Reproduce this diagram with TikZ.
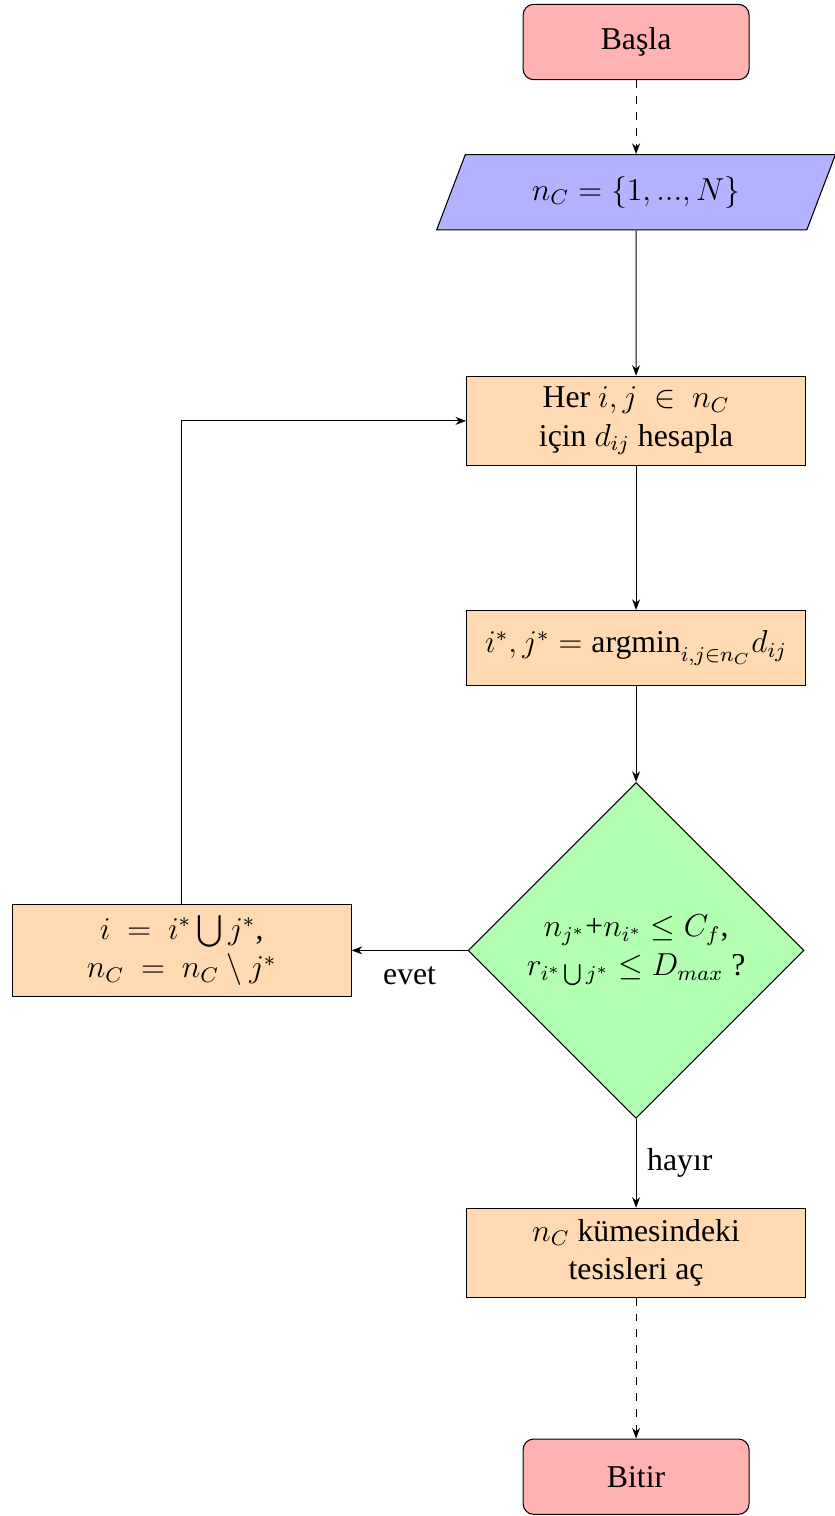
\documentclass[tikz,border=0pt,12pt]{standalone}
\usepackage{amsmath,amssymb}
\usepackage{fontspec}
\setmainfont{Liberation Serif}
\usepackage{tikz}
\usetikzlibrary{arrows.meta,positioning,shapes.geometric,calc}

\begin{document}
\begin{tikzpicture}[
  startstop/.style={rectangle, rounded corners, draw=black, fill=red!30,
    minimum width=3cm, minimum height=1cm, align=center},
  io/.style={trapezium, trapezium left angle=70, trapezium right angle=110,
    trapezium stretches=true, draw=black, fill=blue!30,
    minimum width=5.3cm, minimum height=1cm, align=center},
  process/.style={rectangle, draw=black, fill=orange!30,
    minimum width=4.5cm, minimum height=1cm, align=center},
  decision/.style={diamond, aspect=1, draw=black, fill=green!30,
    minimum width=4.46cm, minimum height=4.46cm, inner sep=0pt, align=center},
  arr/.style={-{Stealth[length=4pt,width=3pt]}},
]
\useasboundingbox (0,0) rectangle (11.075,-20.13);

% START / INPUT
\node[startstop] (start) at (8.446,-0.558) {Başla};
\node[io, below=0.98cm of start] (input) {$n_C = \{1, ..., N\}$};

% DISTANCES
\node[process, below=1.93cm of input] (dist)
  {Her $i,j \ \in \ n_C$\\ için $d_{ij}$ hesapla};
\node[process, below=1.91cm of dist] (argmin)
  {$i^*, j^* = \text{argmin}_{i,j\in n_C} d_{ij}$};

% CHECK
\node[decision, below=1.27cm of argmin] (check)
  {$n_{j^*}$+$n_{i^*}$ $\le C_f$,\\ $r_{i^*\bigcup j^*} \le D_{max}$ ?};
\node[process, left=1.54cm of check, minimum height=1.22cm] (merge)
  {$i \ = \ i^*\bigcup j^*$,\\ $n_C \ = \ n_C \setminus j^*$};

% END
\node[process, below=1.18cm of check, minimum height=1.18cm] (open)
  {$n_C$ kümesindeki\\ tesisleri aç};
\node[startstop, below=1.87cm of open] (stop) {Bitir};

% ARROWS
\draw[arr, dashed] (start) -- (input);
\draw[arr] (input) -- (dist);
\draw[arr] (dist) -- (argmin);
\draw[arr] (argmin) -- (check);
\draw[arr] (check) -- node[below, yshift=-2pt] {evet} (merge);
\draw[arr] (merge.north) |- (dist.west);
\draw[arr] (check) -- node[right] {hayır} (open);
\draw[arr, dashed] (open) -- (stop);
\end{tikzpicture}
\end{document}
